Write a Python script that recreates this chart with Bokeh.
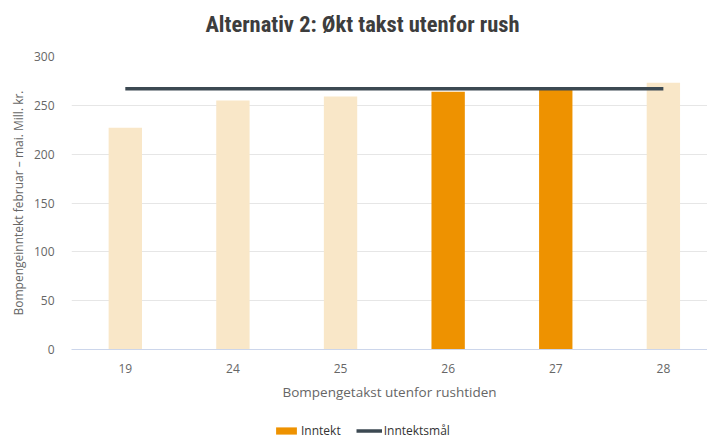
from bokeh.plotting import figure
from bokeh.layouts import column
from bokeh.models import Range1d, FixedTicker, Legend, LegendItem, ColumnDataSource, Label
from bokeh.embed import file_html
from bokeh.resources import INLINE

title_text = "Alternativ 2: Økt takst utenfor rush"
categories = ["19", "24", "25", "26", "27", "28"]
revenue = [227, 255, 259, 264, 266, 273]
highlight = [False, False, False, True, True, False]
target = [267, 267, 267, 267, 267, 267]
y_ticks = [0, 50, 100, 150, 200, 250, 300]
legend_labels = ["Inntekt", "Inntektsmål"]

LIGHT = "#f9e7c8"
DARK = "#ee9200"
LINE = "#3c4952"
NARROW = "'Liberation Sans Narrow', 'Roboto Condensed', sans-serif"
REG = "'Open Sans', 'Noto Sans', sans-serif"
NAN = float("nan")


def bare_fig(h):
    f = figure(width=707, height=h, output_backend="svg", toolbar_location=None,
               x_axis_location=None, y_axis_location=None,
               x_range=Range1d(0, 1), y_range=Range1d(0, 1),
               min_border_left=71, min_border_right=0, min_border_top=0, min_border_bottom=0)
    f.outline_line_color = None
    f.xgrid.grid_line_color = None
    f.ygrid.grid_line_color = None
    return f


# title strip
tf = bare_fig(40)
tf.add_layout(Label(x=291, y=17, x_units="screen", y_units="screen", text=title_text,
                    text_align="center", text_baseline="alphabetic",
                    text_font=NARROW, text_font_size="22.5px", text_font_style="bold",
                    text_color="#3d3d3d"))

pos = list(range(len(categories)))
src_light = ColumnDataSource(dict(x=[p for p, h in zip(pos, highlight) if not h],
                                  top=[v for v, h in zip(revenue, highlight) if not h]))
src_dark = ColumnDataSource(dict(x=[p for p, h in zip(pos, highlight) if h],
                                 top=[v for v, h in zip(revenue, highlight) if h]))

p = figure(width=707, height=376, output_backend="svg", toolbar_location=None,
           x_range=Range1d(-0.5, 5.41), y_range=Range1d(0, 300),
           min_border_left=71, min_border_right=0, min_border_top=16,
           min_border_bottom=67)
p.outline_line_color = None
p.background_fill_color = "white"
p.border_fill_color = "white"

p.vbar(x="x", top="top", width=0.31, source=src_light, fill_color=LIGHT, line_color=None)
p.vbar(x="x", top="top", width=0.31, source=src_dark, fill_color=DARK, line_color=None)
p.line(pos, target, line_color=LINE, line_width=3.5)

p.xgrid.grid_line_color = None
p.ygrid.grid_line_color = "#e6e6e6"
p.ygrid.ticker = FixedTicker(ticks=y_ticks)

p.yaxis.ticker = FixedTicker(ticks=y_ticks)
p.yaxis.axis_line_color = None
p.yaxis.major_tick_line_color = None
p.yaxis.minor_tick_line_color = None
p.yaxis.major_label_standoff = 11
p.yaxis.major_label_text_font = REG
p.yaxis.major_label_text_font_size = "12px"
p.yaxis.major_label_text_color = "#666666"
p.yaxis.axis_label = "Bompengeinntekt februar – mai. Mill. kr."
p.yaxis.axis_label_text_font = REG
p.yaxis.axis_label_text_font_size = "12px"
p.yaxis.axis_label_text_font_style = "normal"
p.yaxis.axis_label_text_color = "#666666"
p.yaxis.axis_label_standoff = 4

p.xaxis.ticker = FixedTicker(ticks=pos)
p.xaxis.major_label_overrides = {i: c for i, c in zip(pos, categories)}
p.xaxis.axis_line_color = "#ccd6eb"
p.xaxis.major_tick_line_color = None
p.xaxis.minor_tick_line_color = None
p.xaxis.major_label_standoff = 8
p.xaxis.major_label_text_font = REG
p.xaxis.major_label_text_font_size = "12px"
p.xaxis.major_label_text_color = "#666666"
p.xaxis.axis_label = "Bompengetakst utenfor rushtiden"
p.xaxis.axis_label_text_font = REG
p.xaxis.axis_label_text_font_size = "13.5px"
p.xaxis.axis_label_text_font_style = "normal"
p.xaxis.axis_label_text_color = "#666666"
p.xaxis.axis_label_standoff = 7

# legend strip below the chart (empty proxies carry the series styles)
lg = bare_fig(20)
proxy_bar = lg.vbar(x=[NAN], top=[NAN], width=0.31, fill_color=DARK, line_color=None)
proxy_line = lg.line(x=[NAN], y=[NAN], line_color=LINE, line_width=3.5)
legend = Legend(items=[LegendItem(label=legend_labels[0], renderers=[proxy_bar]),
                       LegendItem(label=legend_labels[1], renderers=[proxy_line])],
                orientation="horizontal", location=(202, -3),
                glyph_width=26, glyph_height=9, label_standoff=2, spacing=15,
                padding=0, margin=0, border_line_color=None,
                background_fill_alpha=0, label_height=12,
                label_text_font=REG, label_text_font_size="12px",
                label_text_color="#333333")
lg.add_layout(legend, "center")

open("out.html", "w").write(file_html(column(tf, p, lg, spacing=0), INLINE))
